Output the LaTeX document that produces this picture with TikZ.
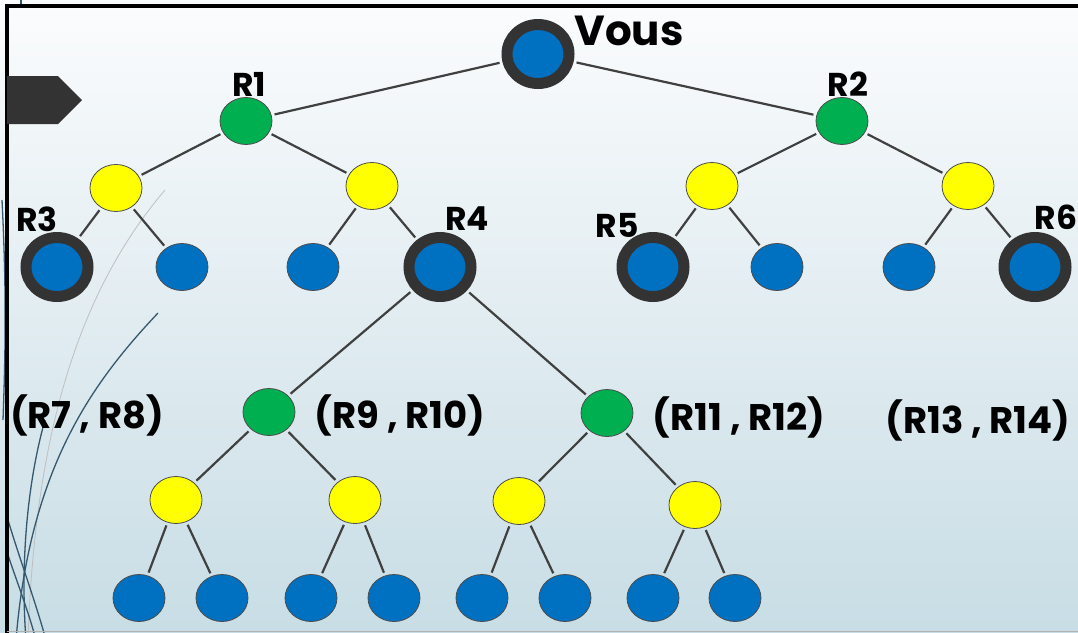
\documentclass[tikz,border=0pt]{standalone}
\usepackage{fontspec}
\setmainfont{Poppins}
\usetikzlibrary{shapes.geometric}
\definecolor{nodeblue}{HTML}{0070C0}
\definecolor{nodegreen}{HTML}{00B050}
\definecolor{nodeyellow}{HTML}{FFFF00}
\definecolor{ringgray}{HTML}{333333}
\definecolor{swoosh}{HTML}{35586F}
\definecolor{bgtop}{HTML}{FBFCFD}
\definecolor{bgmid}{HTML}{EBF2F5}
\definecolor{bgbot}{HTML}{C8DDE5}

\begin{document}
\begin{tikzpicture}[x=1pt,y=-1pt,
  every node/.style={inner sep=0pt},
  dot/.style={ellipse,draw=black!70,line width=0.8pt,minimum width=52pt,minimum height=47pt},
  leaf/.style={dot,fill=nodeblue},
  relay/.style={dot,fill=nodegreen},
  hub/.style={dot,fill=nodeyellow},
  ring/.style={ellipse,fill=nodeblue,draw=ringgray,line width=11pt,minimum width=62pt,minimum height=59pt},
  tag/.style={font=\bfseries\fontsize{33}{36}\selectfont},
  pair/.style={font=\bfseries\fontsize{37}{40}\selectfont},
  link/.style={draw=black!75,line width=2.2pt,shorten <=3pt,shorten >=3pt},
  wisp/.style={draw=swoosh,line width=1.3pt}]
%\draw[very thin,color=gray,step=50] (0,0) grid (1078,632);
\shade[top color=bgtop,middle color=bgmid,bottom color=bgbot] (0,0) rectangle (1078,632);
\useasboundingbox (0,0) rectangle (1078,632);

% swooshes of the slide
\draw[draw=black!25,line width=0.8pt] (165,190) .. controls (80,290) and (35,430) .. (28,640);
\draw[wisp] (158,313) .. controls (90,385) and (30,470) .. (16,640);
\draw[wisp] (45,420) .. controls (28,480) and (20,560) .. (26,640);
\draw[wisp] (8,520) .. controls (20,560) and (35,600) .. (46,640);
\draw[wisp] (8,555) .. controls (18,585) and (28,610) .. (36,640);
\draw[wisp] (2,200) .. controls (6,280) and (6,340) .. (3,420);
\draw[wisp] (21,-2) -- (21,6);

% frame
\draw[line width=4pt] (6.5,640) -- (6.5,6) -- (1090,6);
\draw[color=black!30,line width=1.5pt] (6.5,631.5) -- (1090,631.5);
\fill[ringgray] (7,76) -- (58,76) -- (82,100) -- (58,124) -- (7,124) -- cycle;

% tree
\node[ring] (you) at (538,54) {};
\node[relay] (r1) at (246,121) {};
\node[relay] (r2) at (842,121) {};
\node[hub] (h1) at (116,188) {};
\node[hub] (h2) at (372,186) {};
\node[hub] (h3) at (712,186) {};
\node[hub] (h4) at (968,186) {};
\node[ring] (r3) at (57,267) {};
\node[leaf] (l1) at (182,267) {};
\node[leaf] (l2) at (313,267) {};
\node[ring] (r4) at (440,267) {};
\node[ring] (r5) at (653,267) {};
\node[leaf] (l3) at (777,267) {};
\node[leaf] (l4) at (909,267) {};
\node[ring] (r6) at (1035,267) {};
\node[relay] (g1) at (269,412) {};
\node[relay] (g2) at (607,413) {};
\node[hub] (h5) at (176,500) {};
\node[hub] (h6) at (355,500) {};
\node[hub] (h7) at (519,501) {};
\node[hub] (h8) at (695,505) {};
\foreach \i/\x in {1/139,2/222,3/311,4/394,5/482,6/565,7/653,8/735}
  \node[leaf] (b\i) at (\x,598) {};

\foreach \a/\b in {you/r1,you/r2,r1/h1,r1/h2,r2/h3,r2/h4,h1/r3,h1/l1,h2/l2,h2/r4,
    h3/r5,h3/l3,h4/l4,h4/r6,r4/g1,r4/g2,g1/h5,g1/h6,g2/h7,g2/h8,
    h5/b1,h5/b2,h6/b3,h6/b4,h7/b5,h7/b6,h8/b7,h8/b8}
  \draw[link] (\a) -- (\b);

% labels
\node[font=\bfseries\fontsize{42}{46}\selectfont] (tyou) at (629,31) {Vous};
\node[tag] (t1) at (249,84) {R1};
\node[tag] (t2) at (848,84) {R2};
\node[tag] (t3) at (37,219) {R3};
\node[tag] (t4) at (467,219) {R4};
\node[tag] (t5) at (617,225) {R5};
\node[tag] (t6) at (1056,217) {R6};
\node[pair] (p78) at (87,415) {(R7 , R8)};
\node[pair] (p910) at (400,415) {(R9 , R10)};
\node[pair] (p1112) at (739,417) {(R11 , R12)};
\node[pair] (p1314) at (978,420) {(R13 , R14)};
\end{tikzpicture}
\end{document}
